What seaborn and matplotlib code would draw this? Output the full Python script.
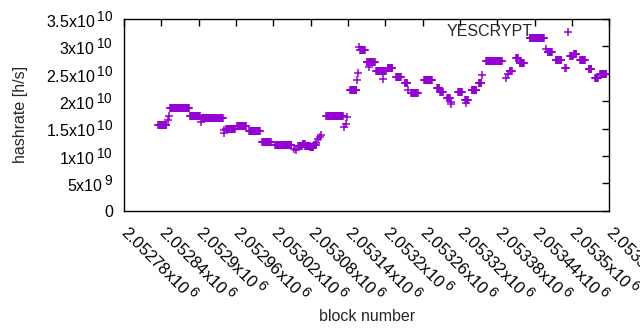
import numpy as np
import pandas as pd
import seaborn as sns
import matplotlib.pyplot as plt
import matplotlib.transforms as mtransforms
import matplotlib._mathtext as mathtext

# gnuplot draws exponents nearly full size
mathtext.SHRINK_FACTOR = 0.85

# hashrate segments: first block, last block, hashrate [h/s]
seg_start = [2052835, 2052851, 2052852, 2052854, 2052886, 2052904, 2052905, 2052940, 2052941,
             2052944, 2052962, 2052981, 2053002, 2053023, 2053053, 2053056, 2053060, 2053067,
             2053071, 2053079, 2053086, 2053089, 2053092, 2053095, 2053097, 2053105, 2053134,
             2053136, 2053138, 2053143, 2053155, 2053156, 2053158, 2053159, 2053170, 2053173,
             2053185, 2053196, 2053204, 2053217, 2053231, 2053236, 2053241, 2053262, 2053283,
             2053288, 2053299, 2053305, 2053306, 2053317, 2053328, 2053330, 2053339, 2053350,
             2053355, 2053362, 2053394, 2053397, 2053400, 2053410, 2053416, 2053432, 2053458,
             2053461, 2053474, 2053489, 2053497, 2053503, 2053513, 2053527, 2053537, 2053545]
seg_end = [2052848, 2052851, 2052852, 2052884, 2052902, 2052904, 2052939, 2052940, 2052941,
           2052958, 2052976, 2052998, 2053016, 2053049, 2053053, 2053056, 2053066, 2053070,
           2053078, 2053084, 2053088, 2053089, 2053092, 2053095, 2053097, 2053132, 2053134,
           2053136, 2053138, 2053153, 2053155, 2053156, 2053158, 2053167, 2053183, 2053173,
           2053201, 2053196, 2053211, 2053225, 2053235, 2053236, 2053252, 2053275, 2053287,
           2053292, 2053304, 2053305, 2053306, 2053323, 2053333, 2053330, 2053346, 2053354,
           2053355, 2053387, 2053394, 2053397, 2053403, 2053413, 2053423, 2053455, 2053458,
           2053468, 2053483, 2053490, 2053501, 2053507, 2053521, 2053531, 2053542, 2053555]
seg_hashrate = [1.56e10, 1.65e10, 1.72e10, 1.87e10, 1.73e10, 1.61e10, 1.69e10, 1.42e10, 1.47e10,
                1.50e10, 1.55e10, 1.455e10, 1.25e10, 1.19e10, 1.13e10, 1.10e10, 1.18e10, 1.22e10,
                1.18e10, 1.16e10, 1.20e10, 1.24e10, 1.30e10, 1.34e10, 1.38e10, 1.72e10, 1.53e10,
                1.59e10, 1.71e10, 2.20e10, 2.39e10, 2.51e10, 2.99e10, 2.93e10, 2.72e10, 2.63e10,
                2.55e10, 2.40e10, 2.61e10, 2.44e10, 2.33e10, 2.20e10, 2.15e10, 2.38e10, 2.24e10,
                2.17e10, 2.05e10, 1.95e10, 1.99e10, 2.17e10, 2.02e10, 1.97e10, 2.20e10, 2.33e10,
                2.48e10, 2.73e10, 2.42e10, 2.50e10, 2.56e10, 2.79e10, 2.69e10, 3.15e10, 2.95e10,
                2.90e10, 2.76e10, 2.61e10, 2.83e10, 2.87e10, 2.76e10, 2.58e10, 2.43e10, 2.50e10]

x_ticks = np.arange(2052780, 2053561, 60)
y_ticks = [0, 5e9, 1e10, 1.5e10, 2e10, 2.5e10, 3e10, 3.5e10]
y_labels = ['0', '5x10$^{\\,9}$', '1x10$^{\\,10}$', '1.5x10$^{\\,10}$', '2x10$^{\\,10}$',
            '2.5x10$^{\\,10}$', '3x10$^{\\,10}$', '3.5x10$^{\\,10}$']

# one point per block
blocks, rates = [], []
for s, e, v in zip(seg_start, seg_end, seg_hashrate):
    b = np.arange(s, e + 1)
    blocks.extend(b)
    rates.extend([v] * len(b))
df = pd.DataFrame({'block': blocks, 'hashrate': rates})

sns.set_style('white')
plt.rcParams['font.family'] = ['Liberation Sans', 'DejaVu Sans']
plt.rcParams['mathtext.default'] = 'regular'

fig = plt.figure(figsize=(6.4, 3.3), dpi=100)
ax = fig.add_axes([0.194, 0.362, 0.758, 0.580])

sns.scatterplot(data=df, x='block', y='hashrate', marker='+', s=36, linewidth=1.1,
                color='#9400d3', label='YESCRYPT', ax=ax)

ax.set_xlim(2052780, 2053560)
ax.set_ylim(0, 3.5e10)
ax.set_xticks(x_ticks)
ax.set_xticklabels(['%gx10$^{\\,6}$' % (t / 1e6) for t in x_ticks], rotation=-45,
                   ha='left', va='top', rotation_mode='anchor', fontsize=12)
ax.set_yticks(y_ticks)
ax.set_yticklabels(y_labels, fontsize=11.5)
ax.tick_params(direction='in', length=5, width=1, top=True, right=True,
               colors='black', pad=8)
shift = mtransforms.ScaledTranslation(8 / 100, 0, fig.dpi_scale_trans)
for lab in ax.get_xticklabels():
    lab.set_transform(lab.get_transform() + shift)
for sp in ax.spines.values():
    sp.set_color('black')
    sp.set_linewidth(1)

ax.set_xlabel('block number', fontsize=11.5, labelpad=2)
ax.set_ylabel('hashrate [h/s]', fontsize=11.5, labelpad=13)

ax.legend(loc='upper right', bbox_to_anchor=(0.947, 0.972), frameon=False, markerfirst=False,
          fontsize=11.5, handlelength=2, handletextpad=1.2, borderaxespad=0, borderpad=0)

fig.savefig('out.png', dpi=100)
